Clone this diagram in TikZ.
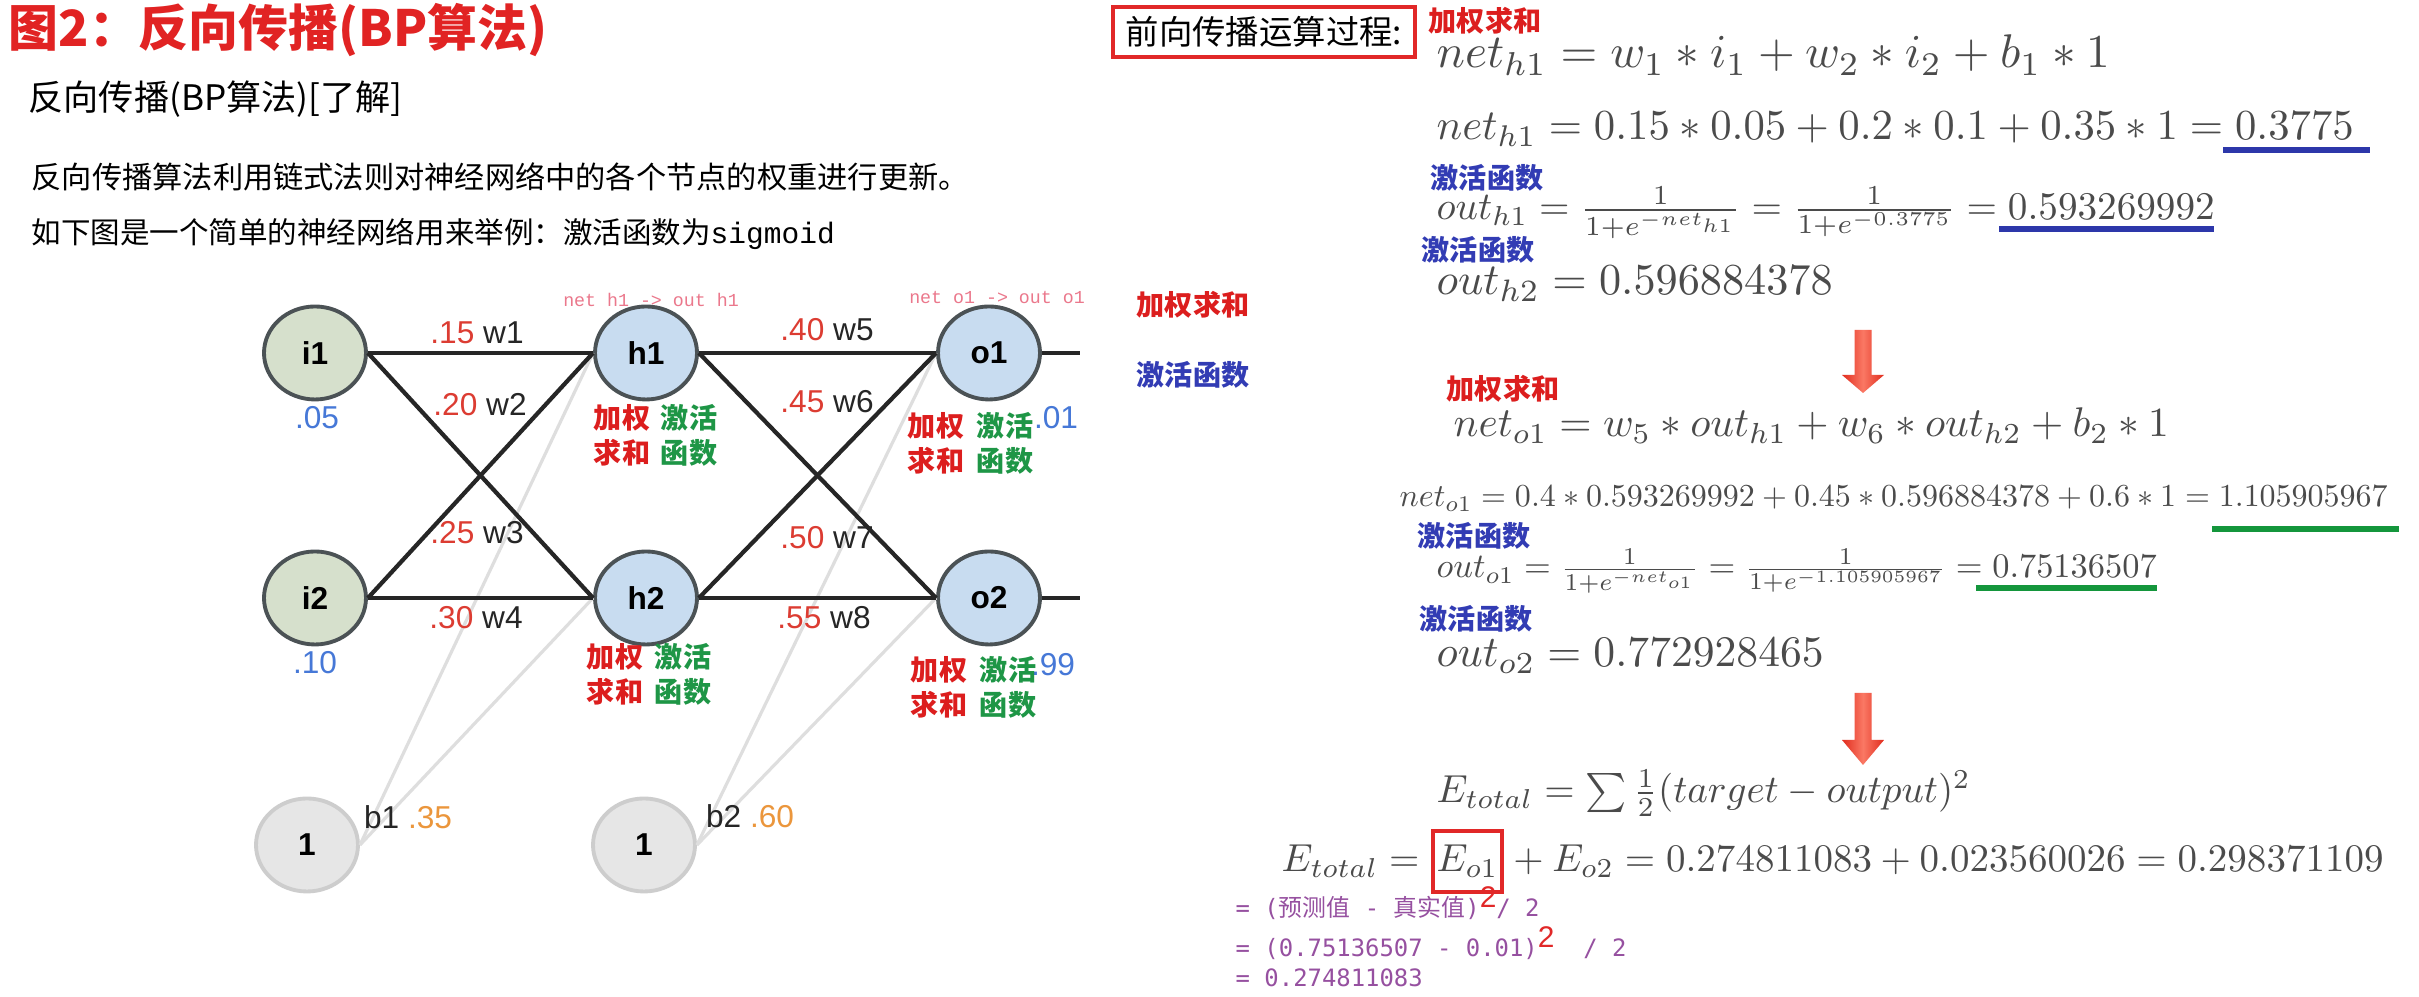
\documentclass[tikz,border=0pt]{standalone}
\usepackage[no-math]{fontspec}
\usepackage{graphicx,xcolor}
\setmainfont{Noto Sans CJK SC}
\newfontfamily\arialf{Liberation Sans}
\newfontfamily\courf{Liberation Mono}
\newfontfamily\dvmono{DejaVu Sans Mono}
\usetikzlibrary{positioning,shapes.geometric}

\definecolor{titlered}{RGB}{225,35,35}
\definecolor{wred}{RGB}{220,60,50}
\definecolor{valblue}{RGB}{70,120,215}
\definecolor{biasorange}{RGB}{235,150,60}
\definecolor{netpink}{RGB}{235,120,140}
\definecolor{lblred}{RGB}{220,30,30}
\definecolor{lblgreen}{RGB}{30,150,70}
\definecolor{lblblue}{RGB}{50,60,180}
\definecolor{ulblue}{RGB}{45,55,170}
\definecolor{ulgreen}{RGB}{20,150,60}
\definecolor{ingreen}{RGB}{214,224,204}
\definecolor{hidblue}{RGB}{200,220,240}
\definecolor{nodeedge}{RGB}{75,82,85}
\definecolor{biasfill}{RGB}{230,230,230}
\definecolor{biasedge}{RGB}{205,205,205}
\definecolor{eqgray}{RGB}{75,75,75}
\definecolor{boxred}{RGB}{225,40,40}
\definecolor{arrowred}{RGB}{225,45,30}
\definecolor{arrowlight}{RGB}{250,120,100}
\definecolor{notepurple}{RGB}{150,80,160}

\newcommand{\zh}[1]{{\rmfamily #1}}
\newcommand{\redsq}{\raisebox{0.7ex}{\textcolor{boxred}{\arialf\fontsize{8.5}{9}\selectfont 2}}}

\begin{document}
\begin{tikzpicture}[
    x=1cm,y=1cm,
    neuron/.style={ellipse,minimum width=10.2mm,minimum height=9.3mm,inner sep=0pt,line width=1.1pt,font=\arialf\bfseries\fontsize{9}{10}\selectfont},
    innode/.style={neuron,draw=nodeedge,fill=ingreen},
    hidnode/.style={neuron,draw=nodeedge,fill=hidblue},
    biasnode/.style={neuron,draw=biasedge,fill=biasfill},
    link/.style={line width=1.2pt,black!85},
    biaslink/.style={line width=0.9pt,black!13},
    wlab/.style={inner sep=0pt,text=black!85,font=\arialf\fontsize{9}{10}\selectfont},
    vallab/.style={inner sep=0pt,text=valblue,font=\arialf\fontsize{9}{10}\selectfont},
    netlab/.style={inner sep=0pt,text=netpink,font=\courf\fontsize{5.2}{6}\selectfont},
    steplab/.style={inner sep=0pt,align=center,font=\bfseries\fontsize{8}{10}\selectfont},
    tag/.style={inner sep=0pt,font=\bfseries\fontsize{8}{9}\selectfont},
    eqn/.style={anchor=base west,inner sep=0pt,text=eqgray},
    uline/.style={line width=1.6pt},
    bigarrow/.style={left color=arrowred,right color=arrowred,middle color=arrowlight},
    note/.style={anchor=west,inner sep=0pt,text=notepurple,font=\dvmono\fontsize{6.8}{8}\selectfont}
]
\fill[white] (0,0) rectangle (24.19,9.97);
\useasboundingbox (0,0) rectangle (24.19,9.97);

% left column: heading and intro
\node[anchor=west,inner sep=0pt,text=titlered,font=\bfseries\fontsize{14.2}{16}\selectfont] (title) at (0.08,9.67) {图2：反向传播(BP算法)};
\node[anchor=west,inner sep=0pt,font=\fontsize{10}{12}\selectfont] (subtitle) at (0.28,8.98) {反向传播(BP算法)[了解]};
\node[anchor=west,inner sep=0pt,font=\fontsize{8.6}{10}\selectfont] (intro) at (0.31,8.20) {反向传播算法利用链式法则对神经网络中的各个节点的权重进行更新。};
\node[anchor=west,inner sep=0pt,font=\fontsize{8.4}{10}\selectfont] (example) at (0.31,7.63) {如下图是一个简单的神经网络用来举例：激活函数为{\courf sigmoid}};

% network
\node[biasnode] (b1) at (3.07,1.52) {1};
\node[biasnode] (b2) at (6.44,1.52) {1};
\node[innode] (i1) at (3.15,6.44) {i1};
\node[innode] (i2) at (3.15,3.99) {i2};
\node[hidnode] (h1) at (6.46,6.44) {h1};
\node[hidnode] (h2) at (6.46,3.99) {h2};
\node[hidnode] (o1) at (9.89,6.44) {o1};
\node[hidnode] (o2) at (9.89,3.99) {o2};
\coordinate (o1out) at (10.80,6.44);
\coordinate (o2out) at (10.80,3.99);

\draw[biaslink] (b1.east) -- (h1.west);
\draw[biaslink] (b1.east) -- (h2.west);
\draw[biaslink] (b2.east) -- (o1.west);
\draw[biaslink] (b2.east) -- (o2.west);

\draw[link] (i1.east) -- (h1.west);
\draw[link] (i1.east) -- (h2.west);
\draw[link] (i2.east) -- (h1.west);
\draw[link] (i2.east) -- (h2.west);
\draw[link] (h1.east) -- (o1.west);
\draw[link] (h1.east) -- (o2.west);
\draw[link] (h2.east) -- (o1.west);
\draw[link] (h2.east) -- (o2.west);
\draw[link] (o1.east) -- (o1out);
\draw[link] (o2.east) -- (o2out);

\node[wlab] (w1) at (4.77,6.64) {\textcolor{wred}{.15} w1};
\node[wlab] (w2) at (4.80,5.92) {\textcolor{wred}{.20} w2};
\node[wlab] (w3) at (4.77,4.64) {\textcolor{wred}{.25} w3};
\node[wlab] (w4) at (4.76,3.79) {\textcolor{wred}{.30} w4};
\node[wlab] (w5) at (8.27,6.67) {\textcolor{wred}{.40} w5};
\node[wlab] (w6) at (8.27,5.95) {\textcolor{wred}{.45} w6};
\node[wlab] (w7) at (8.27,4.59) {\textcolor{wred}{.50} w7};
\node[wlab] (w8) at (8.24,3.79) {\textcolor{wred}{.55} w8};
\node[wlab] (b1lab) at (4.08,1.80) {b1 \textcolor{biasorange}{.35}};
\node[wlab] (b2lab) at (7.50,1.81) {b2 \textcolor{biasorange}{.60}};

\node[vallab] (i1val) at (3.17,5.79) {.05};
\node[vallab] (i2val) at (3.15,3.34) {.10};
\node[vallab] (o1val) at (10.56,5.79) {.01};
\node[vallab] (o2val) at (10.53,3.32) {.99};

\node[netlab] (h1net) at (6.51,6.97) {net h1 -> out h1};
\node[netlab] (o1net) at (9.97,6.99) {net o1 -> out o1};

\node[steplab,text=lblred] (h1sum) at (6.22,5.615) {加权\\求和};
\node[steplab,text=lblgreen] (h1act) at (6.89,5.615) {激活\\函数};
\node[steplab,text=lblred] (h2sum) at (6.15,3.225) {加权\\求和};
\node[steplab,text=lblgreen] (h2act) at (6.83,3.225) {激活\\函数};
\node[steplab,text=lblred] (o1sum) at (9.36,5.535) {加权\\求和};
\node[steplab,text=lblgreen] (o1act) at (10.05,5.535) {激活\\函数};
\node[steplab,text=lblred] (o2sum) at (9.39,3.095) {加权\\求和};
\node[steplab,text=lblgreen] (o2act) at (10.08,3.095) {激活\\函数};

\node[tag,text=lblred] (sumkey) at (11.93,6.92) {加权求和};
\node[tag,text=lblblue] (actkey) at (11.93,6.22) {激活函数};

% right column: forward pass
\node[draw=boxred,line width=1.3pt,minimum width=3.02cm,minimum height=0.50cm,inner sep=0pt,font=\fontsize{9.5}{11}\selectfont] (fwdbox) at (12.64,9.65) {前向传播运算过程:};

\node[tag,text=lblred] (t1) at (14.85,9.76) {加权求和};
\node[eqn] (eq1) at (14.36,9.29) {\resizebox{6.73cm}{!}{$net_{h1}=w_1*i_1+w_2*i_2+b_1*1$}};
\node[eqn] (eq2) at (14.36,8.57) {\resizebox{9.17cm}{!}{$net_{h1}=0.15*0.05+0.2*0.1+0.35*1=0.3775$}};
\draw[uline,ulblue] (22.23,8.47) -- (23.70,8.47);

\node[tag,text=lblblue] (t2) at (14.87,8.19) {激活函数};
\node[eqn] (eq3) at (14.36,7.77) {\resizebox{7.78cm}{!}{$out_{h1}=\frac{1}{1+e^{-net_{h1}}}=\frac{1}{1+e^{-0.3775}}=0.593269992$}};
\draw[uline,ulblue] (19.99,7.68) -- (22.14,7.68);

\node[tag,text=lblblue] (t3) at (14.78,7.47) {激活函数};
\node[eqn] (eq4) at (14.36,7.02) {\resizebox{3.96cm}{!}{$out_{h2}=0.596884378$}};

\shade[bigarrow] (18.545,6.67) -- (18.715,6.67) -- (18.715,6.22) -- (18.84,6.22) -- (18.63,6.04) -- (18.42,6.22) -- (18.545,6.22) -- cycle;

\node[tag,text=lblred] (t4) at (15.03,6.08) {加权求和};
\node[eqn] (eq5) at (14.53,5.60) {\resizebox{7.15cm}{!}{$net_{o1}=w_5*out_{h1}+w_6*out_{h2}+b_2*1$}};
\node[eqn] (eq6) at (13.99,4.90) {\resizebox{9.88cm}{!}{$net_{o1}=0.4*0.593269992+0.45*0.596884378+0.6*1=1.105905967$}};
\draw[uline,ulgreen] (22.12,4.68) -- (23.99,4.68);

\node[tag,text=lblblue] (t5) at (14.74,4.61) {激活函数};
\node[eqn] (eq7) at (14.36,4.19) {\resizebox{7.20cm}{!}{$out_{o1}=\frac{1}{1+e^{-net_{o1}}}=\frac{1}{1+e^{-1.105905967}}=0.75136507$}};
\draw[uline,ulgreen] (19.76,4.09) -- (21.57,4.09);

\node[tag,text=lblblue] (t6) at (14.76,3.78) {激活函数};
\node[eqn] (eq8) at (14.36,3.30) {\resizebox{3.87cm}{!}{$out_{o2}=0.772928465$}};

\shade[bigarrow] (18.545,3.04) -- (18.715,3.04) -- (18.715,2.57) -- (18.84,2.57) -- (18.63,2.32) -- (18.42,2.57) -- (18.545,2.57) -- cycle;

\node[eqn] (eq9) at (14.36,1.94) {\resizebox{5.34cm}{!}{$E_{total}=\sum\frac{1}{2}(target-output)^2$}};
\node[eqn] (etot) at (12.81,1.25) {\scalebox{1.11}{$E_{total}={}$}};
\node[eqn,base right=0pt of etot,draw=boxred,line width=1.2pt,inner xsep=1pt,inner ysep=4pt] (eo1) {\scalebox{1.11}{$E_{o1}$}};
\node[eqn,base right=0pt of eo1] (erest) {\scalebox{1.11}{${}+E_{o2}=0.274811083+0.023560026=0.298371109$}};

\node[note] (n1) at (12.35,0.94) {= (\zh{预测值} - \zh{真实值})\redsq/ 2};
\node[note] (n2) at (12.35,0.54) {= (0.75136507 - 0.01)\redsq\ \ / 2};
\node[note] (n3) at (12.35,0.19) {= 0.274811083};
\end{tikzpicture}
\end{document}
